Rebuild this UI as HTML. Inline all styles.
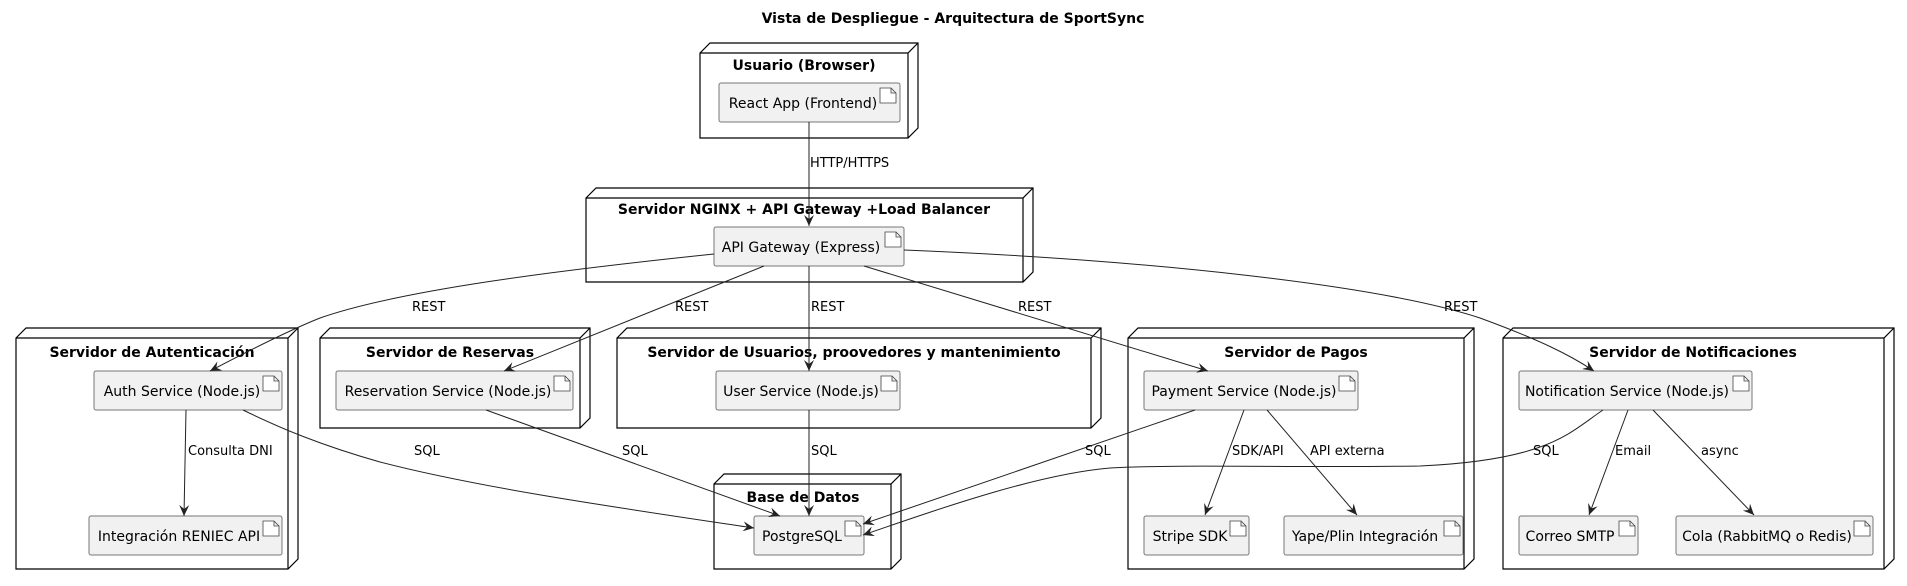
<!DOCTYPE html>
<html><head><meta charset="utf-8"><style>
html,body{margin:0;padding:0;background:#fff;}
svg{display:block;}
text{font-family:"DejaVu Sans","Liberation Sans",sans-serif;font-size:14px;fill:#000;}
.t{font-weight:bold;}
.n{fill:#fff;stroke:#000;stroke-width:1.2;}
.a{fill:#f1f1f1;stroke:#777;stroke-width:1;}
.e{fill:none;stroke:#222;stroke-width:1;}
.ic{fill:#fff;stroke:#444;stroke-width:0.8;}
</style></head><body>
<svg width="1907" height="586" viewBox="0 0 1907 586" xmlns="http://www.w3.org/2000/svg">
<defs>
<marker id="ar" viewBox="0 0 12 10" refX="11" refY="5" markerWidth="12" markerHeight="10" orient="auto" markerUnits="userSpaceOnUse">
<path d="M0,0 L11,5 L0,10 L4,5 Z" fill="#222"/>
</marker>
</defs>
<text class="t" x="953" y="23" text-anchor="middle">Vista de Despliegue - Arquitectura de SportSync</text>

<g id="nodes">
<path class="n" d="M700,53 L710,43 L918,43 L918,128 L908,138 L700,138 Z M700,53 L908,53 L918,43 M908,53 L908,138"/>
<text class="t" x="804" y="70" text-anchor="middle">Usuario (Browser)</text>

<path class="n" d="M586,198 L596,188 L1033,188 L1033,272 L1023,282 L586,282 Z M586,198 L1023,198 L1033,188 M1023,198 L1023,282"/>
<text class="t" x="804" y="214" text-anchor="middle">Servidor NGINX + API Gateway +Load Balancer</text>

<path class="n" d="M16,338 L26,328 L298,328 L298,559 L288,569 L16,569 Z M16,338 L288,338 L298,328 M288,338 L288,569"/>
<text class="t" x="152" y="357" text-anchor="middle">Servidor de Autenticación</text>

<path class="n" d="M320,338 L330,328 L590,328 L590,418 L580,428 L320,428 Z M320,338 L580,338 L590,328 M580,338 L580,428"/>
<text class="t" x="450" y="357" text-anchor="middle">Servidor de Reservas</text>

<path class="n" d="M617,338 L627,328 L1101,328 L1101,418 L1091,428 L617,428 Z M617,338 L1091,338 L1101,328 M1091,338 L1091,428"/>
<text class="t" x="854" y="357" text-anchor="middle">Servidor de Usuarios, proovedores y mantenimiento</text>

<path class="n" d="M714,484 L724,474 L901,474 L901,559 L891,569 L714,569 Z M714,484 L891,484 L901,474 M891,484 L891,569"/>
<text class="t" x="803" y="502" text-anchor="middle">Base de Datos</text>

<path class="n" d="M1128,338 L1138,328 L1474,328 L1474,559 L1464,569 L1128,569 Z M1128,338 L1464,338 L1474,328 M1464,338 L1464,569"/>
<text class="t" x="1296" y="357" text-anchor="middle">Servidor de Pagos</text>

<path class="n" d="M1503,338 L1513,328 L1894,328 L1894,559 L1884,569 L1503,569 Z M1503,338 L1884,338 L1894,328 M1884,338 L1884,569"/>
<text class="t" x="1693" y="357" text-anchor="middle">Servidor de Notificaciones</text>
</g>

<g id="arts">
<rect class="a" x="719" y="83" width="181" height="39" rx="2"/><text x="803" y="108" text-anchor="middle">React App (Frontend)</text>
<rect class="a" x="714" y="227" width="190" height="39" rx="2"/><text x="801" y="252" text-anchor="middle">API Gateway (Express)</text>
<rect class="a" x="94" y="371" width="188" height="39" rx="2"/><text x="182" y="396" text-anchor="middle">Auth Service (Node.js)</text>
<rect class="a" x="89" y="516" width="193" height="39" rx="2"/><text x="179" y="541" text-anchor="middle">Integración RENIEC API</text>
<rect class="a" x="336" y="371" width="237" height="39" rx="2"/><text x="448" y="396" text-anchor="middle">Reservation Service (Node.js)</text>
<rect class="a" x="716" y="371" width="184" height="39" rx="2"/><text x="801" y="396" text-anchor="middle">User Service (Node.js)</text>
<rect class="a" x="754" y="516" width="110" height="39" rx="2"/><text x="802" y="541" text-anchor="middle">PostgreSQL</text>
<rect class="a" x="1144" y="371" width="214" height="39" rx="2"/><text x="1244" y="396" text-anchor="middle">Payment Service (Node.js)</text>
<rect class="a" x="1144" y="516" width="105" height="39" rx="2"/><text x="1190" y="541" text-anchor="middle">Stripe SDK</text>
<rect class="a" x="1284" y="516" width="179" height="39" rx="2"/><text x="1365" y="541" text-anchor="middle">Yape/Plin Integración</text>
<rect class="a" x="1519" y="371" width="233" height="39" rx="2"/><text x="1627" y="396" text-anchor="middle">Notification Service (Node.js)</text>
<rect class="a" x="1519" y="516" width="119" height="39" rx="2"/><text x="1570" y="541" text-anchor="middle">Correo SMTP</text>
<rect class="a" x="1676" y="516" width="197" height="39" rx="2"/><text x="1767" y="541" text-anchor="middle">Cola (RabbitMQ o Redis)</text>
</g>

<g id="icons">
<path class="ic" d="M880,88 h11 l5,5 v10 h-16 z M891,88 v5 h5"/>
<path class="ic" d="M885,232 h11 l5,5 v10 h-16 z M896,232 v5 h5"/>
<path class="ic" d="M263,376 h11 l5,5 v10 h-16 z M274,376 v5 h5"/>
<path class="ic" d="M263,521 h11 l5,5 v10 h-16 z M274,521 v5 h5"/>
<path class="ic" d="M554,376 h11 l5,5 v10 h-16 z M565,376 v5 h5"/>
<path class="ic" d="M881,376 h11 l5,5 v10 h-16 z M892,376 v5 h5"/>
<path class="ic" d="M845,521 h11 l5,5 v10 h-16 z M856,521 v5 h5"/>
<path class="ic" d="M1339,376 h11 l5,5 v10 h-16 z M1350,376 v5 h5"/>
<path class="ic" d="M1230,521 h11 l5,5 v10 h-16 z M1241,521 v5 h5"/>
<path class="ic" d="M1444,521 h11 l5,5 v10 h-16 z M1455,521 v5 h5"/>
<path class="ic" d="M1733,376 h11 l5,5 v10 h-16 z M1744,376 v5 h5"/>
<path class="ic" d="M1619,521 h11 l5,5 v10 h-16 z M1630,521 v5 h5"/>
<path class="ic" d="M1854,521 h11 l5,5 v10 h-16 z M1865,521 v5 h5"/>
</g>

<g id="edges">
<path class="e" marker-end="url(#ar)" d="M809,122 L809,226"/>
<path class="e" marker-end="url(#ar)" d="M714,254 C560,270 400,290 320,318 C290,330 250,350 210,371"/>
<path class="e" marker-end="url(#ar)" d="M764,266 L504,371"/>
<path class="e" marker-end="url(#ar)" d="M809,266 L809,371"/>
<path class="e" marker-end="url(#ar)" d="M864,266 L1208,371"/>
<path class="e" marker-end="url(#ar)" d="M904,250 C1150,260 1380,285 1480,318 C1540,340 1570,355 1594,371"/>
<path class="e" marker-end="url(#ar)" d="M186,410 L184,516"/>
<path class="e" marker-end="url(#ar)" d="M243,410 C280,428 320,445 380,462 C480,488 620,508 754,528"/>
<path class="e" marker-end="url(#ar)" d="M486,410 L780,516"/>
<path class="e" marker-end="url(#ar)" d="M809,410 L809,516"/>
<path class="e" marker-end="url(#ar)" d="M1195,410 L863,524"/>
<path class="e" marker-end="url(#ar)" d="M1603,410 C1570,432 1550,460 1420,466 C1300,468 1180,464 1110,468 C1040,474 950,505 863,535"/>
<path class="e" marker-end="url(#ar)" d="M1244,410 L1205,515"/>
<path class="e" marker-end="url(#ar)" d="M1267,410 L1357,515"/>
<path class="e" marker-end="url(#ar)" d="M1628,410 L1589,515"/>
<path class="e" marker-end="url(#ar)" d="M1653,410 L1754,515"/>
</g>

<g id="labels">
<text x="810" y="167" style="font-size:13px">HTTP/HTTPS</text>
<text x="412" y="311" style="font-size:13px">REST</text>
<text x="675" y="311" style="font-size:13px">REST</text>
<text x="811" y="311" style="font-size:13px">REST</text>
<text x="1018" y="311" style="font-size:13px">REST</text>
<text x="1444" y="311" style="font-size:13px">REST</text>
<text x="188" y="455" style="font-size:13px">Consulta DNI</text>
<text x="414" y="455" style="font-size:13px">SQL</text>
<text x="622" y="455" style="font-size:13px">SQL</text>
<text x="811" y="455" style="font-size:13px">SQL</text>
<text x="1085" y="455" style="font-size:13px">SQL</text>
<text x="1533" y="455" style="font-size:13px">SQL</text>
<text x="1232" y="455" style="font-size:13px">SDK/API</text>
<text x="1310" y="455" style="font-size:13px">API externa</text>
<text x="1615" y="455" style="font-size:13px">Email</text>
<text x="1701" y="455" style="font-size:13px">async</text>
</g>
</svg>
</body></html>
